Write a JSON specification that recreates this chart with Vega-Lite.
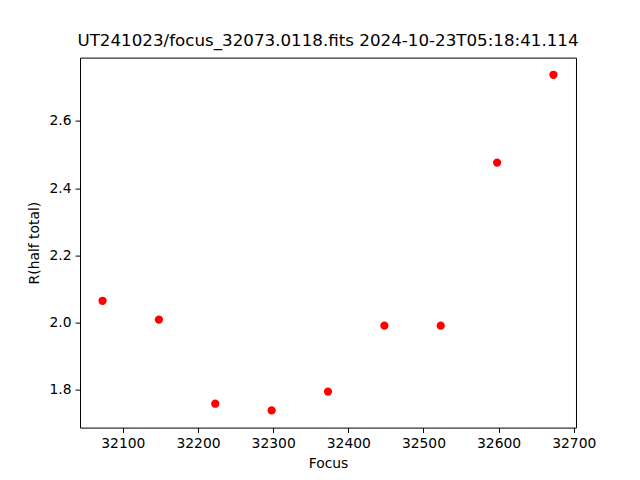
{
  "$schema": "https://vega.github.io/schema/vega-lite/v6.json",
  "width": 496,
  "height": 370,
  "autosize": {"type": "none"},
  "padding": {"left": 80, "top": 57.6, "right": 64, "bottom": 53},
  "background": "white",
  "title": {
    "text": "UT241023/focus_32073.0118.fits 2024-10-23T05:18:41.114",
    "font": "DejaVu Sans",
    "fontSize": 16.7,
    "fontWeight": "normal",
    "color": "black",
    "anchor": "middle",
    "offset": 8
  },
  "config": {
    "view": {"stroke": "black", "strokeWidth": 1},
    "axis": {
      "grid": false,
      "domain": false,
      "tickColor": "black",
      "tickSize": 4.9,
      "tickWidth": 1,
      "labelFont": "DejaVu Sans",
      "labelFontSize": 13.9,
      "labelColor": "black",
      "labelPadding": 4,
      "titleFont": "DejaVu Sans",
      "titleFontSize": 13.9,
      "titleFontWeight": "normal",
      "titleColor": "black"
    }
  },
  "data": {
    "values": [
      {"focus": 32073, "r": 2.065},
      {"focus": 32148, "r": 2.009},
      {"focus": 32223, "r": 1.759},
      {"focus": 32298, "r": 1.739},
      {"focus": 32373, "r": 1.795},
      {"focus": 32448, "r": 1.991},
      {"focus": 32523, "r": 1.991},
      {"focus": 32598, "r": 2.476},
      {"focus": 32673, "r": 2.737}
    ]
  },
  "mark": {"type": "point", "shape": "circle", "filled": true, "color": "red", "opacity": 1, "size": 68},
  "encoding": {
    "x": {
      "field": "focus",
      "type": "quantitative",
      "title": "Focus",
      "scale": {"domain": [32043, 32703], "nice": false, "zero": false},
      "axis": {"values": [32100, 32200, 32300, 32400, 32500, 32600, 32700], "format": "d", "titlePadding": 6}
    },
    "y": {
      "field": "r",
      "type": "quantitative",
      "title": "R(half total)",
      "scale": {"domain": [1.688, 2.788], "nice": false, "zero": false},
      "axis": {"values": [1.8, 2.0, 2.2, 2.4, 2.6], "format": ".1f", "titlePadding": 8}
    }
  }
}
